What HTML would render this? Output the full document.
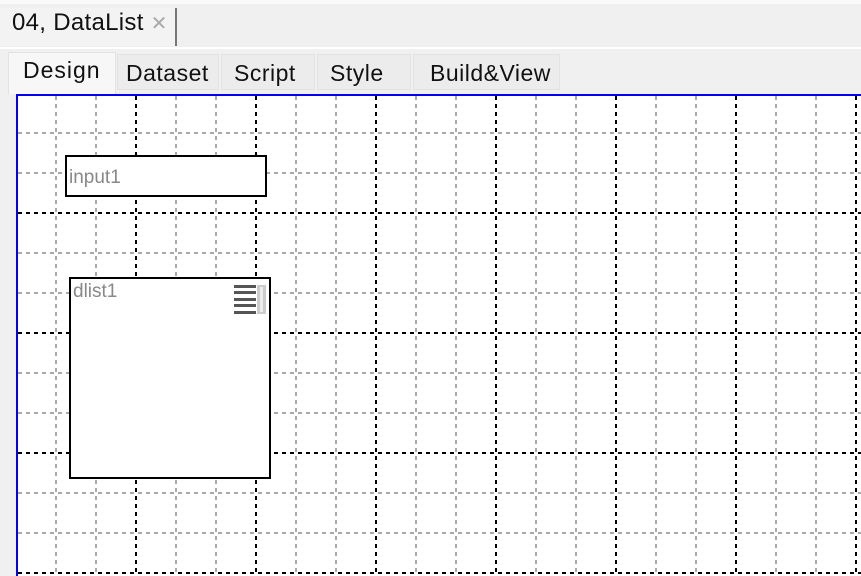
<!DOCTYPE html>
<html><head><style>
body{margin:0;width:861px;height:576px;overflow:hidden;background:#f0f0f0;font-family:"Liberation Sans","NanumGothic",sans-serif;position:relative}
.a{position:absolute}
.tab{position:absolute;top:54px;height:36px;background:#ececec;border:1px solid #e2e2e2;font-size:23px;line-height:36px;color:#111;box-sizing:border-box}
</style></head><body>
<div class="a" style="left:0;top:0;width:861px;height:4px;background:#fafafa"></div>
<div class="a" style="left:0;top:8px;width:175px;height:38px;background:#f3f3f3;border-right:2px solid #777;"></div>
<div class="a" style="left:12px;top:9px;font-size:24px;color:#111;letter-spacing:0.3px">04, DataList <span style="color:#aaa;font-size:20px">✕</span></div>
<div class="a" style="left:0;top:47px;width:861px;height:2px;background:#fff"></div>
<div class="tab" style="left:117px;width:102px;padding-left:8px;letter-spacing:0.5px">Dataset</div>
<div class="tab" style="left:221px;width:94px;padding-left:12px;letter-spacing:0.5px">Script</div>
<div class="tab" style="left:317px;width:94px;padding-left:12px;letter-spacing:0.5px">Style</div>
<div class="tab" style="left:413px;width:147px;padding-left:16px;letter-spacing:0.5px">Build&amp;View</div>
<div class="a" style="left:8px;top:52px;width:108px;height:42px;background:#f7f7f7;border:1px solid #e2e2e2;border-bottom:none;font-size:23px;line-height:34px;padding-left:14px;box-sizing:border-box;color:#111;letter-spacing:1px">Design</div>
<svg class="a" style="left:0;top:0" width="861" height="576">
<rect x="16" y="94" width="850" height="490" fill="#fff"/>
<g stroke-width="2" stroke-dasharray="4,4" fill="none">
<g stroke="#aaa">
<path d="M56 96V576M96 96V576M176 96V576M216 96V576M296 96V576M336 96V576M416 96V576M456 96V576M536 96V576M576 96V576M656 96V576M696 96V576M776 96V576M816 96V576"/>
<path d="M18 133H861M18 173H861M18 253H861M18 293H861M18 373H861M18 413H861M18 493H861M18 533H861"/>
</g>
<g stroke="#000">
<path d="M136 96V576M256 96V576M376 96V576M496 96V576M616 96V576M736 96V576M856 96V576"/>
<path d="M18 213H861M18 333H861M18 453H861M18 573H861"/>
</g>
</g>
<path d="M17 576V95H861" stroke="#0000ee" stroke-width="2" fill="none"/>
<rect x="66" y="156" width="200" height="40" fill="#fff" stroke="#000" stroke-width="2"/>
<rect x="70" y="278" width="200" height="200" fill="#fff" stroke="#000" stroke-width="2"/>
<g fill="#555"><rect x="234" y="285" width="22" height="3"/><rect x="234" y="291" width="22" height="3"/><rect x="234" y="298" width="22" height="3"/><rect x="234" y="304" width="22" height="3"/><rect x="234" y="311" width="22" height="3"/></g>
<rect x="257" y="285" width="9" height="29" fill="#ccc"/><rect x="260" y="287" width="3" height="25" fill="#eee"/>
<text x="69" y="183" font-size="19" fill="#888" font-family="Liberation Sans,sans-serif">input1</text>
<text x="73" y="297" font-size="19" fill="#888" font-family="Liberation Sans,sans-serif">dlist1</text>
</svg>
</body></html>
